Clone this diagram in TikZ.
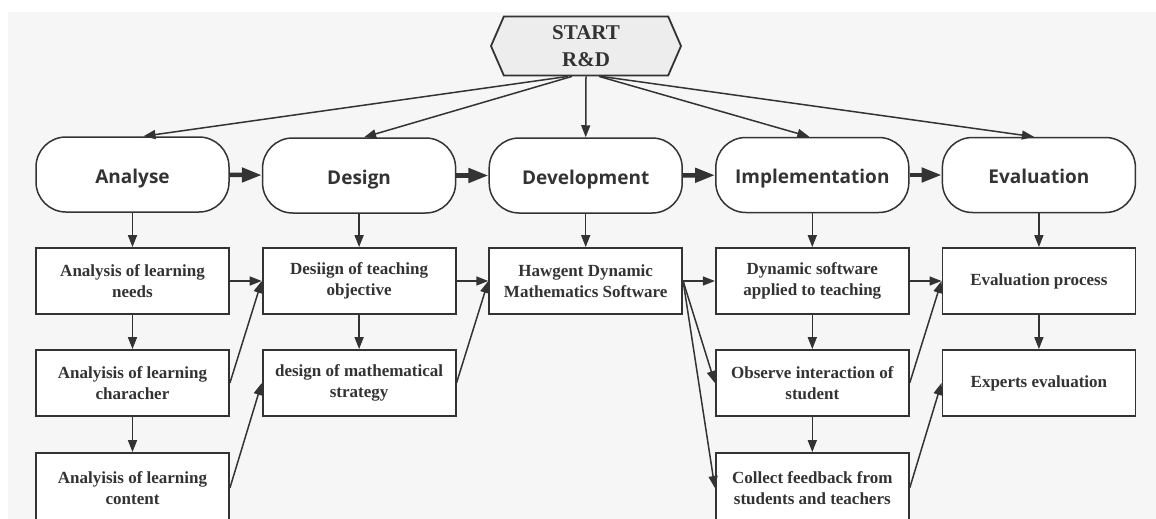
\documentclass[tikz,border=0pt]{standalone}
\usepackage{fontspec}
\setmainfont{Liberation Serif}
\newfontfamily\phasefont{Open Sans}
\usepackage{xcolor}
\usetikzlibrary{shapes.symbols,arrows.meta,positioning}

\definecolor{linegray}{HTML}{333333}
\definecolor{bggray}{HTML}{F6F6F6}
\definecolor{hexgray}{HTML}{EDEDED}

\begin{document}
\begin{tikzpicture}[x=1pt,y=-1pt,
    phase/.style={draw=linegray, line width=1.5pt, fill=white, rounded corners=30pt,
      minimum width=193pt, minimum height=75pt, text=linegray,
      text height=18pt, text depth=1pt,
      font=\phasefont\bfseries\fontsize{19}{22}\selectfont},
    task/.style={draw=linegray, line width=1.8pt, fill=white, align=center,
      minimum width=193pt, minimum height=66pt, inner sep=2pt, text=linegray,
      font=\bfseries\fontsize{17}{21}\selectfont},
    link/.style={-{Triangle[length=12pt,width=9pt]}, line width=1.5pt, draw=linegray},
    boldlink/.style={-{Triangle[length=20pt,width=14pt]}, line width=4.5pt, draw=linegray}]
    \useasboundingbox (0,0) rectangle (1156,519);
    \fill[bggray] (8,12) rectangle (1156,519);

    % start
    \node[signal, signal to=west and east, signal pointer angle=133, draw=linegray,
      line width=1.8pt, fill=hexgray, minimum width=190pt, minimum height=59pt,
      inner sep=0pt, align=center, text=linegray,
      font=\bfseries\fontsize{21}{27}\selectfont] (start) at (586,46) {START\\R\&D};

    % phases
    \node[phase] (ana) at (132.5,174.5) {Analyse};
    \node[phase] (des) at (359.1,175.5) {Design};
    \node[phase] (dev) at (585.7,175.5) {Development};
    \node[phase] (imp) at (812.3,175) {Implementation};
    \node[phase] (eva) at (1038.9,175) {Evaluation};

    % tasks
    \node[task] (need) at (132.5,281) {Analysis of learning\\needs};
    \node[task] (trait) at (132.5,383) {Analyisis of learning\\characher};
    \node[task, minimum height=70pt] (content) at (132.5,488) {Analyisis of learning\\content};
    \node[task] (objective) at (359.1,281) {Desiign of teaching\\objective};
    \node[task] (strategy) at (359.1,383) {design of mathematical\\strategy};
    \node[task] (software) at (585.7,281) {Hawgent Dynamic\\Mathematics Software};
    \node[task] (apply) at (812.3,281) {Dynamic software\\applied to teaching};
    \node[task] (observe) at (812.3,383) {Observe interaction of\\student};
    \node[task, minimum height=70pt] (feedback) at (812.3,488) {Collect feedback from\\students and teachers};
    \node[task] (process) at (1038.9,281) {Evaluation process};
    \node[task] (expert) at (1038.9,383) {Experts evaluation};

    % start to phases
    \draw[link] ([xshift=-18pt]start.south) -- ([xshift=11pt]ana.north);
    \draw[link] ([xshift=-14pt]start.south) -- ([xshift=5pt]des.north);
    \draw[link] (start.south) -- (dev.north);
    \draw[link] ([xshift=13pt]start.south) -- ([xshift=-3pt]imp.north);
    \draw[link] ([xshift=15pt]start.south) -- ([xshift=-5pt]eva.north);

    \draw[boldlink] (ana) -- (des);
    \draw[boldlink] (des) -- (dev);
    \draw[boldlink] (dev) -- (imp);
    \draw[boldlink] (imp) -- (eva);

    % phases to tasks
    \draw[link] (ana) -- (need);
    \draw[link] (des) -- (objective);
    \draw[link] (dev) -- (software);
    \draw[link] (imp) -- (apply);
    \draw[link] (eva) -- (process);

    \draw[link] (need) -- (trait);
    \draw[link] (trait) -- (content);
    \draw[link] (objective) -- (strategy);
    \draw[link] (apply) -- (observe);
    \draw[link] (observe) -- (feedback);
    \draw[link] (process) -- (expert);

    % across
    \draw[link] (need.east) -- (objective.west);
    \draw[link] (trait.east) -- (objective.west);
    \draw[link] (content.east) -- (strategy.west);
    \draw[link] (objective.east) -- (software.west);
    \draw[link] (strategy.east) -- (software.west);
    \draw[link] (software.east) -- (apply.west);
    \draw[link] (software.east) -- (observe.west);
    \draw[link] (software.east) -- (feedback.west);
    \draw[link] (apply.east) -- (process.west);
    \draw[link] (observe.east) -- (process.west);
    \draw[link] (feedback.east) -- (expert.west);
\end{tikzpicture}
\end{document}
